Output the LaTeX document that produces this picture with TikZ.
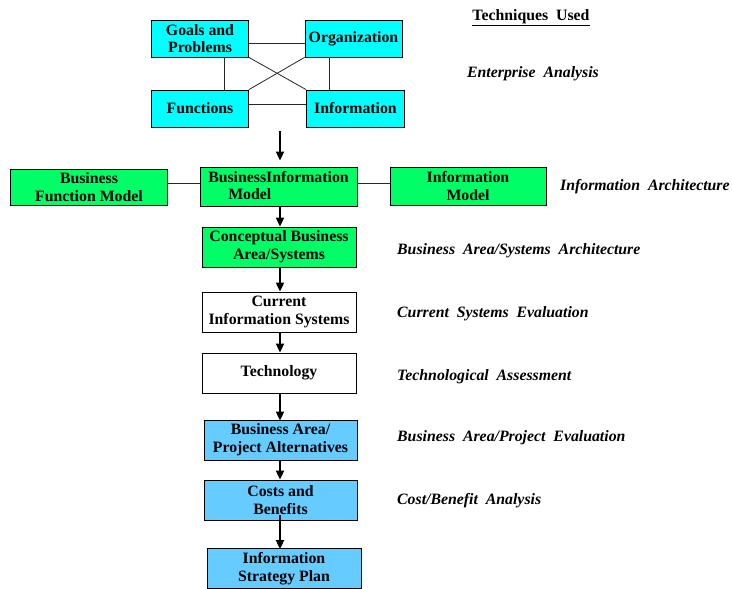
\documentclass[tikz,border=0pt]{standalone}
\usepackage{fontspec}
\setmainfont{Liberation Serif}
\usetikzlibrary{arrows.meta}
\definecolor{boxcyan}{RGB}{0,255,255}
\definecolor{boxgreen}{RGB}{0,255,102}
\definecolor{boxblue}{RGB}{102,204,255}
\begin{document}
\begin{tikzpicture}[x=1pt,y=-1pt,
  every node/.style={font=\fontsize{15.8}{17.8}\selectfont\bfseries},
  box/.style={draw=black,line width=0.8pt,inner sep=0pt,align=center},
  link/.style={draw=black!85,line width=0.8pt},
  flow/.style={line width=1.8pt,-{Triangle[length=9pt,width=8pt]}},
  technique/.style={font=\fontsize{15.8}{17.8}\selectfont\bfseries\itshape,anchor=west,inner sep=0pt},
]
\useasboundingbox (0,0) rectangle (732,589);

% enterprise analysis cluster
\node[box,fill=boxcyan,minimum width=97pt,minimum height=37pt] (goals) at (200,38.5) {Goals and\\Problems};
\node[box,fill=boxcyan,minimum width=97pt,minimum height=37pt] (org) at (353.5,38.5) {Organization};
\node[box,fill=boxcyan,minimum width=97pt,minimum height=37pt] (func) at (200,108.5) {Functions};
\node[box,fill=boxcyan,minimum width=98pt,minimum height=37pt] (info) at (355.5,108.5) {Information};

\draw[link] (goals.east |- 0,43) -- (org.west |- 0,43);
\draw[link] (func.east |- 0,104) -- (info.west |- 0,104);
\draw[link] (goals.south -| 224,0) -- (func.north -| 224,0);
\draw[link] (org.south -| 329,0) -- (info.north -| 329,0);
\draw[link] (goals.south east) -- (info.north west);
\draw[link] (org.south west) -- (func.north east);

% information architecture row
\node[box,fill=boxgreen,minimum width=157pt,minimum height=36pt] (bfm) at (89,187) {Business\\Function Model};
\node[box,fill=boxgreen,minimum width=157pt,minimum height=39pt] (bim) at (278.5,186.5) {};
\node[align=left,inner sep=0pt] (bimtext) at ([yshift=1pt]bim.center) {BusinessInformation\\\hspace*{20pt}Model};
\node[box,fill=boxgreen,minimum width=156pt,minimum height=38pt] (im) at (468,186) {Information\\Model};

\draw[link] (bfm.east |- 0,183) -- (bim.west |- 0,183);
\draw[link] (bim.east |- 0,183) -- (im.west |- 0,183);

\coordinate (clusterout) at (280,131);
\draw[flow] (clusterout) -- ([yshift=6pt]bim.north -| clusterout);

% planning sequence
\node[box,fill=boxgreen,minimum width=154pt,minimum height=40pt] (cba) at (279,247) {Conceptual Business\\Area/Systems};
\node[box,fill=white,minimum width=154pt,minimum height=40pt] (cis) at (279,312) {Current\\Information Systems};
\node[box,fill=white,minimum width=154pt,minimum height=40pt] (tec) at (279,373) {Technology};
\node[box,fill=boxblue,minimum width=153pt,minimum height=40pt] (bap) at (280.5,440) {Business Area/\\Project Alternatives};
\node[box,fill=boxblue,minimum width=153pt,minimum height=40pt] (cab) at (280.5,500) {Costs and\\Benefits};
\node[box,fill=boxblue,minimum width=154pt,minimum height=40pt] (isp) at (284,568.5) {Information\\Strategy Plan};

\draw[flow] (bim.south -| 280,0) -- (cba.north -| 280,0);
\draw[flow] (cba.south -| 280,0) -- (cis.north -| 280,0);
\draw[flow] (cis.south -| 280,0) -- (tec.north -| 280,0);
\draw[flow] (tec.south -| 280,0) -- ([yshift=-1pt]bap.north -| 280,0);
\draw[flow] (bap.south -| 280,0) -- (cab.north -| 280,0);
\draw[flow] ([yshift=5pt]cab.south -| 280,0) -- ([yshift=-1pt]isp.north -| 280,0);

% techniques column
\node[inner sep=0pt] (heading) at (531,18) {\underline{Techniques\ \ Used}};
\node[technique,anchor=center] (t1) at (533,74) {Enterprise\ \ Analysis};
\node[technique] (t2) at (560,187) {Information\ \ Architecture};
\node[technique] (t3) at (397,251) {Business\ \ Area/Systems\ \ Architecture};
\node[technique] (t4) at (397,314) {Current\ \ Systems\ \ Evaluation};
\node[technique] (t5) at (397,377) {Technological\ \ Assessment};
\node[technique] (t6) at (397,438) {Business\ \ Area/Project\ \ Evaluation};
\node[technique] (t7) at (397,501) {Cost/Benefit\ \ Analysis};
\end{tikzpicture}
\end{document}
